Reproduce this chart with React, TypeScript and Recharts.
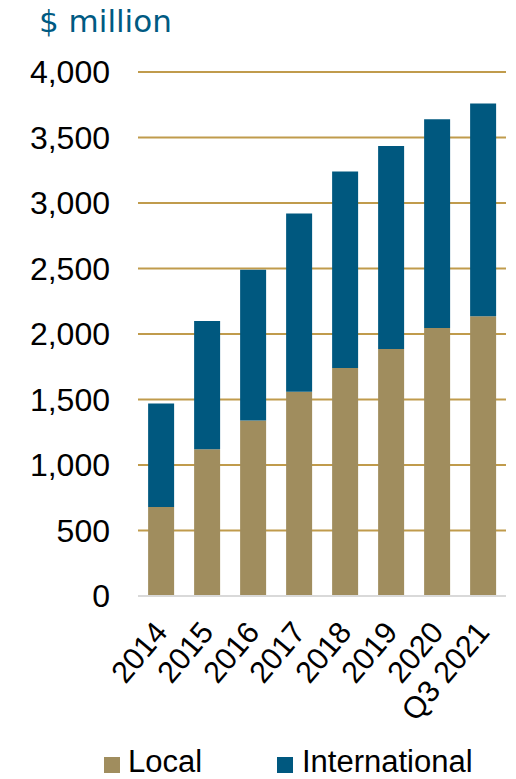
import React from 'react';
import { BarChart, Bar, XAxis, YAxis, CartesianGrid } from 'recharts';

const categories = ['2014', '2015', '2016', '2017', '2018', '2019', '2020', 'Q3 2021'];
const localValues = [680, 1120, 1340, 1560, 1740, 1885, 2045, 2135];
const internationalValues = [790, 980, 1150, 1360, 1500, 1550, 1595, 1625];
const yTicks = [0, 500, 1000, 1500, 2000, 2500, 3000, 3500, 4000];

const data = categories.map((name, i) => ({
  name,
  local: localValues[i],
  international: internationalValues[i],
}));

const FONT = '"Liberation Sans", Arial, sans-serif';
const LOCAL = '#a08d5e';
const INTL = '#00587f';

function XTick(props: any) {
  const { x, y, payload } = props;
  const ax = x + 8;
  const ay = y + 29;
  return (
    <text
      x={ax}
      y={ay}
      transform={`rotate(-50, ${ax}, ${ay})`}
      textAnchor="end"
      fontSize={30.5}
      fontFamily={FONT}
      fill="#000"
    >
      {payload.value}
    </text>
  );
}

export default function App() {
  return (
    <div style={{ position: 'absolute', left: 0, top: 0, width: 516, height: 779, background: '#fff', fontFamily: FONT }}>
      <div style={{ position: 'absolute', left: 39, top: 1, fontSize: 31, color: '#005a82', lineHeight: '40px', fontFamily: '"DejaVu Sans", Verdana, sans-serif' }}>
        $ million
      </div>
      <BarChart
        width={516}
        height={779}
        data={data}
        margin={{ top: 72, right: 10, bottom: 0, left: 0 }}
        barCategoryGap="22%"
      >
        <CartesianGrid vertical={false} stroke="#c09b4c" strokeWidth={2} />
        <XAxis
          dataKey="name"
          interval={0}
          height={183}
          tickLine={false}
          axisLine={{ stroke: '#d9d9d9', strokeWidth: 2 }}
          tick={<XTick />}
        />
        <YAxis
          width={138}
          domain={[0, 4000]}
          ticks={yTicks}
          interval={0}
          tickLine={false}
          axisLine={false}
          tickSize={0}
          tickMargin={28}
          tickFormatter={(v: number) => v.toLocaleString('en-US')}
          tick={{ fontSize: 32, fill: '#000', fontFamily: FONT }}
        />
        <Bar dataKey="local" stackId="a" fill={LOCAL} isAnimationActive={false} />
        <Bar dataKey="international" stackId="a" fill={INTL} isAnimationActive={false} />
      </BarChart>
      <div style={{ position: 'absolute', left: 104, top: 757, width: 16, height: 16, background: LOCAL }} />
      <div style={{ position: 'absolute', left: 128, top: 744, fontSize: 31, lineHeight: '36px', color: '#000' }}>Local</div>
      <div style={{ position: 'absolute', left: 277, top: 757, width: 16, height: 16, background: INTL }} />
      <div style={{ position: 'absolute', left: 302, top: 744, fontSize: 31, lineHeight: '36px', color: '#000' }}>International</div>
    </div>
  );
}
